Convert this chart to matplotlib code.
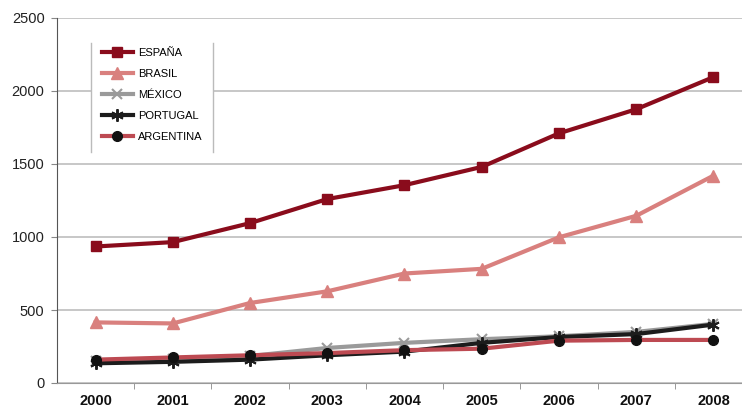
import matplotlib
matplotlib.use("Agg")
import matplotlib.pyplot as plt
from matplotlib.lines import Line2D
from matplotlib.patches import Rectangle
import numpy as np

plt.rcParams["font.family"] = ["Liberation Sans", "DejaVu Sans"]

years = ["2000", "2001", "2002", "2003", "2004", "2005", "2006", "2007", "2008"]
espana = [935, 965, 1095, 1260, 1355, 1480, 1710, 1875, 2095]
brasil = [415, 408, 548, 628, 750, 782, 998, 1145, 1420]
mexico = [150, 165, 185, 240, 275, 300, 320, 350, 405]
portugal = [135, 145, 160, 190, 215, 275, 315, 335, 400]
argentina = [160, 175, 190, 205, 225, 235, 290, 295, 295]
yticks = [0, 500, 1000, 1500, 2000, 2500]

W, H = 742, 408
fig = plt.figure(figsize=(W / 100, H / 100), dpi=100)
ax = fig.add_axes([57 / W, 25 / H, 695 / W, 365 / H])

x = np.arange(len(years))
series = [
    ("ESPAÑA", espana, dict(color="#8a0c1c", marker="s", ms=7.5, mfc="#8a0c1c", mec="#8a0c1c")),
    ("BRASIL", brasil, dict(color="#d9807e", marker="^", ms=8, mfc="#d9807e", mec="#d9807e")),
    ("MÉXICO", mexico, dict(color="#9a9a9a", marker="x", ms=7, mew=1.5, mec="#9a9a9a")),
    ("PORTUGAL", portugal, dict(color="#1c1c1c", marker=(6, 2, 0), ms=9, mew=1.4, mec="#1c1c1c")),
    ("ARGENTINA", argentina, dict(color="#bd4a52", marker="o", ms=7, mfc="#111111", mec="#111111")),
]
for name, vals, kw in series:
    ax.plot(x, vals, lw=3, label=name, **kw)

ax.set_xlim(-0.5, len(years) - 0.5)
ax.set_ylim(0, 2500)
ax.set_yticks(yticks)
ax.set_yticklabels([str(v) for v in yticks], fontsize=10.5, color="#222222")
ax.yaxis.grid(True, color="#bdbdbd", lw=1.2)
ax.set_axisbelow(True)

ax.set_xticks(x)
ax.set_xticklabels(years, fontsize=10.5, fontweight="bold", color="#111111")
ax.set_xticks(np.arange(len(years) - 1) + 0.5, minor=True)
ax.tick_params(axis="x", which="major", length=0, pad=8)
ax.tick_params(axis="x", which="minor", length=4, color="#888888")
ax.tick_params(axis="y", length=4, color="#888888", pad=5)

for s in ["top", "right"]:
    ax.spines[s].set_visible(False)
ax.spines["left"].set_color("#555555")
ax.spines["bottom"].set_color("#999999")

# white legend panel with grey side rules
ax.add_patch(Rectangle((91 / W, 1 - 152 / H), 122 / W, 109 / H, transform=fig.transFigure,
                       facecolor="white", edgecolor="none", zorder=4))
for xp in (91, 213):
    ax.add_line(Line2D([xp / W, xp / W], [1 - 43 / H, 1 - 152 / H], color="#bbbbbb", lw=1,
                       transform=fig.transFigure, zorder=4))

leg = ax.legend(loc="upper left", bbox_to_anchor=(96 / W, 1 - 42 / H),
                bbox_transform=fig.transFigure, borderaxespad=0, fontsize=8,
                handlelength=2.8, labelspacing=1.0, borderpad=0.5, handletextpad=0.45,
                frameon=False)
leg.set_zorder(5)

fig.savefig("out.png", dpi=100)
